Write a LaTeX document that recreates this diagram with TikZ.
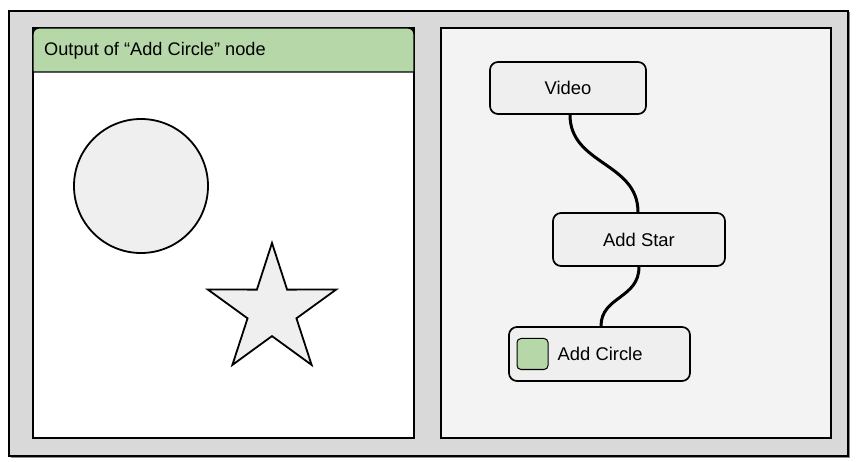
\documentclass[tikz,border=0pt]{standalone}
\usepackage{fontspec}
\setmainfont{Liberation Sans}
\usetikzlibrary{positioning}

\definecolor{framegray}{HTML}{D9D9D9}
\definecolor{panelgray}{HTML}{F3F3F3}
\definecolor{boxgray}{HTML}{EFEFEF}
\definecolor{headgreen}{HTML}{B6D7A8}

\begin{document}
\begin{tikzpicture}[x=1pt, y=1pt]
        \tikzstyle{every node}+=[inner sep=0pt, font=\fontsize{18.4}{22}\selectfont]
        \tikzstyle{graphnode}=[draw=black, line width=1.7pt, fill=boxgray, rounded corners=8pt, minimum height=53pt]
        \tikzstyle{wire}=[line width=3pt, black]
        \useasboundingbox (0,0) rectangle (857,-462);

        % outer frame
        \fill [black!45] (10.5,-12.5) rectangle (849.5,-457.5);
        \draw [line width=1.8pt, fill=framegray] (9,-11) rectangle (848,-456);

        % left panel: output view
        \draw [line width=1.3pt, fill=white] (33,-28) rectangle (414,-438);
        \draw [line width=1.3pt, fill=headgreen, rounded corners=6pt] (33,-72) -- (33,-28) -- (414,-28) [sharp corners] -- (414,-72) -- cycle;
        \node (title) [anchor=west, font=\fontsize{18.2}{22}\selectfont] at (44,-51) {Output of “Add Circle” node};

        \draw [line width=1.8pt, fill=boxgray] (141,-186) circle (67);
        \draw [line width=1.8pt, fill=boxgray, line join=miter, shift={(272,-310.4)}]
          (90:67.4) foreach \a in {0,...,4} { -- (126+72*\a:25.7) -- (162+72*\a:67.4) } -- cycle;

        % right panel: node graph
        \draw [line width=1.3pt, fill=panelgray] (441,-28) rectangle (831,-438);

        \node (video) [graphnode, minimum width=156pt, minimum height=52pt] at (568,-88) {Video};
        \node (star) [graphnode, minimum width=172pt] at (639,-239.5) {Add Star};
        \node (circ) [graphnode, minimum width=181pt, minimum height=54pt] at (599.5,-354) {};
        \node (swatch) [draw=black, line width=1pt, fill=headgreen, rounded corners=4pt, minimum size=31pt] at (532.5,-354) {};
        \node (circtext) [right=9pt of swatch] {Add Circle};

        \draw [wire] ([xshift=2pt]video.south) .. controls +(0,-50) and +(0,50) .. ([xshift=-1pt]star.north);
        \draw [wire] (star.south) .. controls +(0,-32) and +(0,30) .. ([xshift=1.5pt]circ.north);
\end{tikzpicture}
\end{document}
